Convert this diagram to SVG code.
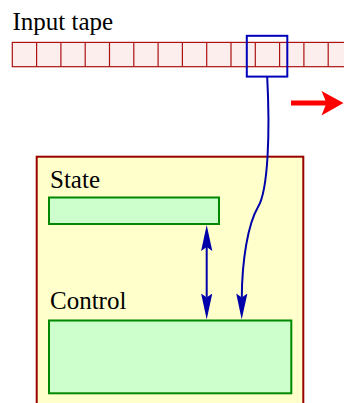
<svg xmlns="http://www.w3.org/2000/svg" width="344" height="403" viewBox="0 0 344 403">
<style>
text{font-family:'Liberation Serif','DejaVu Serif',serif;font-size:25px;fill:#000}
.cell{fill:#fdeeee;stroke:#aa1111;stroke-width:1.2}
.box{fill:#ffffcc;stroke:#990000;stroke-width:2}
.reg{fill:#ccffcc;stroke:#008800;stroke-width:2}
.conn{fill:none;stroke:#0000aa;stroke-width:2}
</style>
<defs>
<marker id="ah" markerUnits="userSpaceOnUse" markerWidth="30" markerHeight="14" viewBox="0 -7 30 14" refX="4" refY="0" orient="auto-start-reverse">
<path d="M0,-5.6 L26,0 L0,5.6 L4,0 Z" fill="#0000aa"/>
</marker>
</defs>
<g id="tape">
<text x="12.5" y="30" font-family="Liberation Serif, serif">Input tape</text>
<rect class="cell" x="12.3" y="42.4" width="340" height="24.3"/>
<path d="M36.6,42.4V66.7M60.9,42.4V66.7M85.2,42.4V66.7M109.5,42.4V66.7M133.8,42.4V66.7M158.1,42.4V66.7M182.4,42.4V66.7M206.7,42.4V66.7M231,42.4V66.7M255.3,42.4V66.7M279.6,42.4V66.7M303.9,42.4V66.7M328.2,42.4V66.7" stroke="#aa1111" stroke-width="1.2" fill="none"/>
</g>
<g id="head">
<rect x="246.8" y="35.8" width="40.5" height="40.8" fill="none" stroke="#0000bb" stroke-width="2"/>
</g>
<g id="move">
<line x1="291" y1="103" x2="327" y2="103" stroke="#ff0000" stroke-width="5"/>
<path d="M343.5,103 L321.5,91 L326.5,103 L321.5,115.5 Z" fill="#ff0000"/>
</g>
<g id="machine">
<rect class="box" x="36.7" y="156.7" width="266.6" height="270"/>
</g>
<g id="state">
<text x="50" y="187.7" font-family="Liberation Serif, serif">State</text>
<rect class="reg" x="49" y="197.5" width="170" height="26.5"/>
</g>
<g id="control">
<text x="50" y="309.3" font-family="Liberation Serif, serif">Control</text>
<rect class="reg" x="49" y="320.5" width="242.3" height="72.8"/>
</g>
<g id="connectors">
<line class="conn" x1="206.7" y1="247" x2="206.7" y2="297.5" marker-start="url(#ah)" marker-end="url(#ah)"/>
<path class="conn" d="M267.2,77 C270,130 268.5,190 258,207 C248,224 242,260 241.8,297.5" marker-end="url(#ah)"/>
</g>
</svg>
